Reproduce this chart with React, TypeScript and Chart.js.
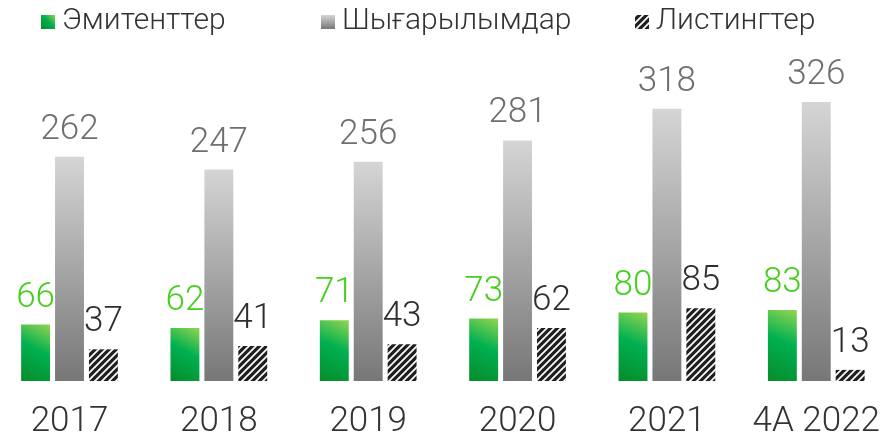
import React, { useEffect, useRef } from "react";
import { Chart, registerables } from "chart.js";

Chart.register(...registerables);

const categories = ["2017", "2018", "2019", "2020", "2021", "4А 2022"];
const emitents = [66, 62, 71, 73, 80, 83];
const issues = [262, 247, 256, 281, 318, 326];
const listings = [37, 41, 43, 62, 85, 13];
const seriesNames = ["Эмитенттер", "Шығарылымдар", "Листингтер"];

const FONT = "Roboto, 'Open Sans', sans-serif";
const CAT_PCT = 0.681;
const BAR_PCT = 0.853;
const labelColors = ["#46cf1f", "#6f6f6f", "#2e2e2e"];
// legend text start positions (layout only)
const legendTextX = [62, 342, 656];

function makeHatch(): CanvasPattern | string {
  const s = 7;
  const c = document.createElement("canvas");
  c.width = s;
  c.height = s;
  const g = c.getContext("2d");
  if (!g) return "#222";
  g.fillStyle = "#202020";
  g.fillRect(0, 0, s, s);
  g.strokeStyle = "#ffffff";
  g.lineWidth = 1.7;
  g.beginPath();
  g.moveTo(-1, s + 1);
  g.lineTo(s + 1, -1);
  g.moveTo(-2, 2);
  g.lineTo(2, -2);
  g.moveTo(s - 2, s + 2);
  g.lineTo(s + 2, s - 2);
  g.stroke();
  const p = g.createPattern(c, "repeat");
  return p || "#222";
}

function barGeom(ctx: any) {
  const chart = ctx.chart;
  const xs = chart.scales.x;
  const ys = chart.scales.y;
  const n = categories.length;
  const step = xs.width / (n - 1);
  const chunk = (step * CAT_PCT) / 3;
  const w = chunk * BAR_PCT;
  const cx = xs.getPixelForValue(ctx.dataIndex) + (ctx.datasetIndex - 1) * chunk;
  const v = ctx.raw as number;
  const top = ys.getPixelForValue(v);
  const base = ys.getPixelForValue(0);
  return { cx, w, top, base };
}

function greenFill(ctx: any) {
  const chart = ctx.chart;
  if (!chart.chartArea || ctx.type !== "data") return "#00b050";
  const { cx, w, top, base } = barGeom(ctx);
  const g = chart.ctx.createLinearGradient(cx + w / 2, top, cx - w / 2, base);
  g.addColorStop(0, "#93d551");
  g.addColorStop(0.45, "#00b050");
  g.addColorStop(1, "#068c2b");
  return g;
}

function grayFill(ctx: any) {
  const chart = ctx.chart;
  if (!chart.chartArea || ctx.type !== "data") return "#aaaaaa";
  const { top, base } = barGeom(ctx);
  const g = chart.ctx.createLinearGradient(0, top, 0, base);
  g.addColorStop(0, "#d5d5d5");
  g.addColorStop(1, "#777777");
  return g;
}

const valueLabels = {
  id: "valueLabels",
  afterDatasetsDraw(chart: any) {
    const c = chart.ctx;
    c.save();
    c.font = `300 35px ${FONT}`;
    c.textAlign = "center";
    c.textBaseline = "alphabetic";
    chart.data.datasets.forEach((ds: any, di: number) => {
      const meta = chart.getDatasetMeta(di);
      c.fillStyle = labelColors[di];
      meta.data.forEach((el: any, i: number) => {
        c.fillText(String(ds.data[i]), el.x, el.y - 18);
      });
    });
    c.restore();
  },
};

const customLegend = {
  id: "customLegend",
  afterDraw(chart: any) {
    const c = chart.ctx;
    const hatch = chart.$hatch;
    c.save();
    c.font = `300 30px ${FONT}`;
    c.textBaseline = "middle";
    c.textAlign = "left";
    const box = 14;
    const gapText = 7;
    const y = 21;
    seriesNames.forEach((t, i) => {
      const tx = legendTextX[i];
      const bx = tx - gapText - box;
      const by = y - box / 2 + 1;
      let fill: any;
      if (i === 0) {
        const g = c.createLinearGradient(bx + box, by, bx, by + box);
        g.addColorStop(0, "#93d551");
        g.addColorStop(0.45, "#00b050");
        g.addColorStop(1, "#068c2b");
        fill = g;
      } else if (i === 1) {
        const g = c.createLinearGradient(0, by, 0, by + box);
        g.addColorStop(0, "#d5d5d5");
        g.addColorStop(1, "#777777");
        fill = g;
      } else {
        fill = hatch;
      }
      c.fillStyle = fill;
      c.fillRect(bx, by, box, box);
      c.fillStyle = "#333333";
      c.fillText(t, tx, y);
    });
    c.restore();
  },
};

export default function App() {
  const ref = useRef<HTMLCanvasElement | null>(null);
  useEffect(() => {
    if (!ref.current) return;
    const hatch = makeHatch();
    const chart: any = new Chart(ref.current, {
      type: "bar",
      data: {
        labels: categories,
        datasets: [
          { label: seriesNames[0], data: emitents, backgroundColor: greenFill, clip: false as any },
          { label: seriesNames[1], data: issues, backgroundColor: grayFill, clip: false as any },
          { label: seriesNames[2], data: listings, backgroundColor: hatch as any, clip: false as any },
        ],
      },
      options: {
        responsive: false,
        animation: false,
        devicePixelRatio: 1,
        categoryPercentage: CAT_PCT,
        barPercentage: BAR_PCT,
        layout: { padding: { left: 69.5, right: 64, top: 60, bottom: 0 } },
        plugins: { legend: { display: false }, tooltip: { enabled: false } },
        scales: {
          x: {
            offset: false,
            grid: { display: false, drawTicks: false },
            border: { display: false },
            ticks: {
              color: "#333333",
              padding: 2,
              maxRotation: 0,
              autoSkip: false,
              font: { family: FONT, size: 35, weight: "300" as any, lineHeight: "78px" as any },
            },
          },
          y: { display: false, min: 0, max: 375 },
        },
      },
      plugins: [valueLabels, customLegend],
    });
    chart.$hatch = hatch;
    chart.draw();
    return () => chart.destroy();
  }, []);
  return (
    <div
      style={{
        position: "absolute",
        left: 0,
        top: 0,
        width: 882,
        height: 433,
        overflow: "hidden",
        background: "#fff",
      }}
    >
      <canvas ref={ref} width={882} height={463} style={{ display: "block" }} />
    </div>
  );
}
